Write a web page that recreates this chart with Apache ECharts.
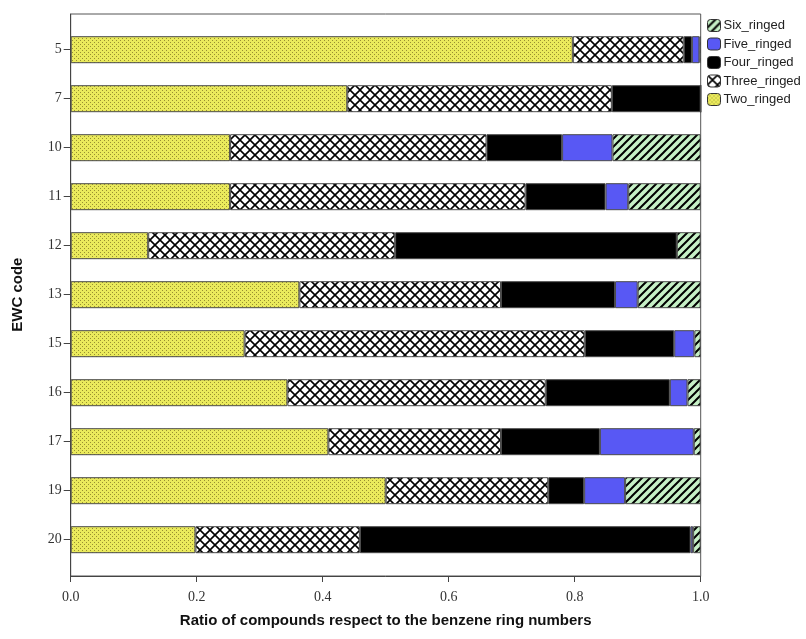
<!DOCTYPE html>
<html><head><meta charset="utf-8">
<script src="https://cdn.jsdelivr.net/npm/echarts@6/dist/echarts.min.js"></script>
<style>html,body{margin:0;padding:0;background:#fff}#c{width:806px;height:639px}</style>
</head><body><div id="c"></div>
<script>
const categories = ['5','7','10','11','12','13','15','16','17','19','20'];
const twoRinged   = [0.797,0.439,0.253,0.253,0.123,0.363,0.276,0.344,0.409,0.500,0.198];
const threeRinged = [0.176,0.420,0.407,0.469,0.392,0.320,0.540,0.410,0.274,0.258,0.261];
const fourRinged  = [0.013,0.141,0.120,0.127,0.447,0.181,0.142,0.197,0.157,0.057,0.525];
const fiveRinged  = [0.012,0.000,0.080,0.036,0.000,0.036,0.032,0.028,0.149,0.065,0.004];
const sixRinged   = [0.002,0.000,0.140,0.115,0.038,0.100,0.010,0.021,0.011,0.120,0.012];
const xTicks = [0,0.2,0.4,0.6,0.8,1.0];

function pat(w,h,draw){const c=document.createElement('canvas');c.width=w;c.height=h;const g=c.getContext('2d');draw(g,w,h);return {image:c,repeat:'repeat'};}
const yellowPat = pat(4,4,(g)=>{g.fillStyle='#eaea5c';g.fillRect(0,0,4,4);g.fillStyle='#989030';g.fillRect(0,0,1,1);g.fillRect(2,2,1,1);});
const crossPat = pat(10,10,(g)=>{g.fillStyle='#fff';g.fillRect(0,0,10,10);g.strokeStyle='#000';g.lineWidth=1.6;g.beginPath();g.moveTo(0,0);g.lineTo(10,10);g.moveTo(10,0);g.lineTo(0,10);g.stroke();});
const stripePat = pat(8,8,(g)=>{g.fillStyle='#c6f0c6';g.fillRect(0,0,8,8);g.strokeStyle='#000';g.lineWidth=2;g.beginPath();g.moveTo(-1,9);g.lineTo(9,-1);g.moveTo(-1,1);g.lineTo(1,-1);g.moveTo(7,9);g.lineTo(9,7);g.stroke();});

const chart = echarts.init(document.getElementById('c'), null, {renderer:'canvas'});
const lblFont = 'Liberation Serif';
function mk(name, data, color){
  return {name:name,type:'bar',stack:'s',xAxisIndex:0,yAxisIndex:0,data:data,barWidth:27,
    itemStyle:{color:color,borderColor:'#4a4a4a',borderWidth:1},emphasis:{disabled:true}};
}
chart.setOption({
  animation:false,
  backgroundColor:'#fff',
  grid:[
    {left:70.7,right:105.3,top:25.2,bottom:74.8,containLabel:false},
    {left:70.7,right:105.3,top:14,bottom:63,show:true,borderColor:'#555',borderWidth:1,backgroundColor:'transparent'}
  ],
  xAxis:[
    {type:'value',gridIndex:0,min:0,max:1,interval:0.2,show:false},
    {type:'value',gridIndex:1,min:0,max:1,interval:0.2,
     axisLine:{show:true,lineStyle:{color:'#444',width:1}},
     axisTick:{show:true,length:6,inside:false,lineStyle:{color:'#444'}},
     splitLine:{show:false},
     axisLabel:{fontFamily:lblFont,fontSize:14,color:'#333',margin:14,formatter:v=>v.toFixed(1)},
     name:'Ratio of compounds respect to the benzene ring numbers',nameLocation:'middle',nameGap:37,
     nameTextStyle:{fontFamily:'Liberation Sans',fontWeight:'bold',fontSize:15,color:'#111'}}
  ],
  yAxis:[
    {type:'category',gridIndex:0,data:categories,inverse:true,
     axisLine:{show:false},
     axisTick:{show:true,alignWithLabel:true,length:7,lineStyle:{color:'#444'}},
     axisLabel:{fontFamily:lblFont,fontSize:14,color:'#333',margin:9},
     name:'EWC code',nameLocation:'middle',nameGap:45,nameRotate:90,
     nameTextStyle:{fontFamily:'Liberation Sans',fontWeight:'bold',fontSize:15,color:'#111'}},
    {type:'value',gridIndex:1,min:0,max:1,axisLine:{show:true,lineStyle:{color:'#444'}},axisTick:{show:false},axisLabel:{show:false},splitLine:{show:false}}
  ],
  legend:{
    orient:'vertical',left:702,top:14,itemWidth:13,itemHeight:12,itemGap:5.5,
    data:['Six_ringed','Five_ringed','Four_ringed','Three_ringed','Two_ringed'],
    textStyle:{fontFamily:'Liberation Sans',fontSize:13,color:'#222',padding:[0,0,0,-2]},
    itemStyle:{borderColor:'#333',borderWidth:1},
    selectedMode:false
  },
  series:[
    mk('Two_ringed',twoRinged,yellowPat),
    mk('Three_ringed',threeRinged,crossPat),
    mk('Four_ringed',fourRinged,'#000000'),
    mk('Five_ringed',fiveRinged,'#5858f4'),
    mk('Six_ringed',sixRinged,stripePat)
  ]
});
</script></body></html>
